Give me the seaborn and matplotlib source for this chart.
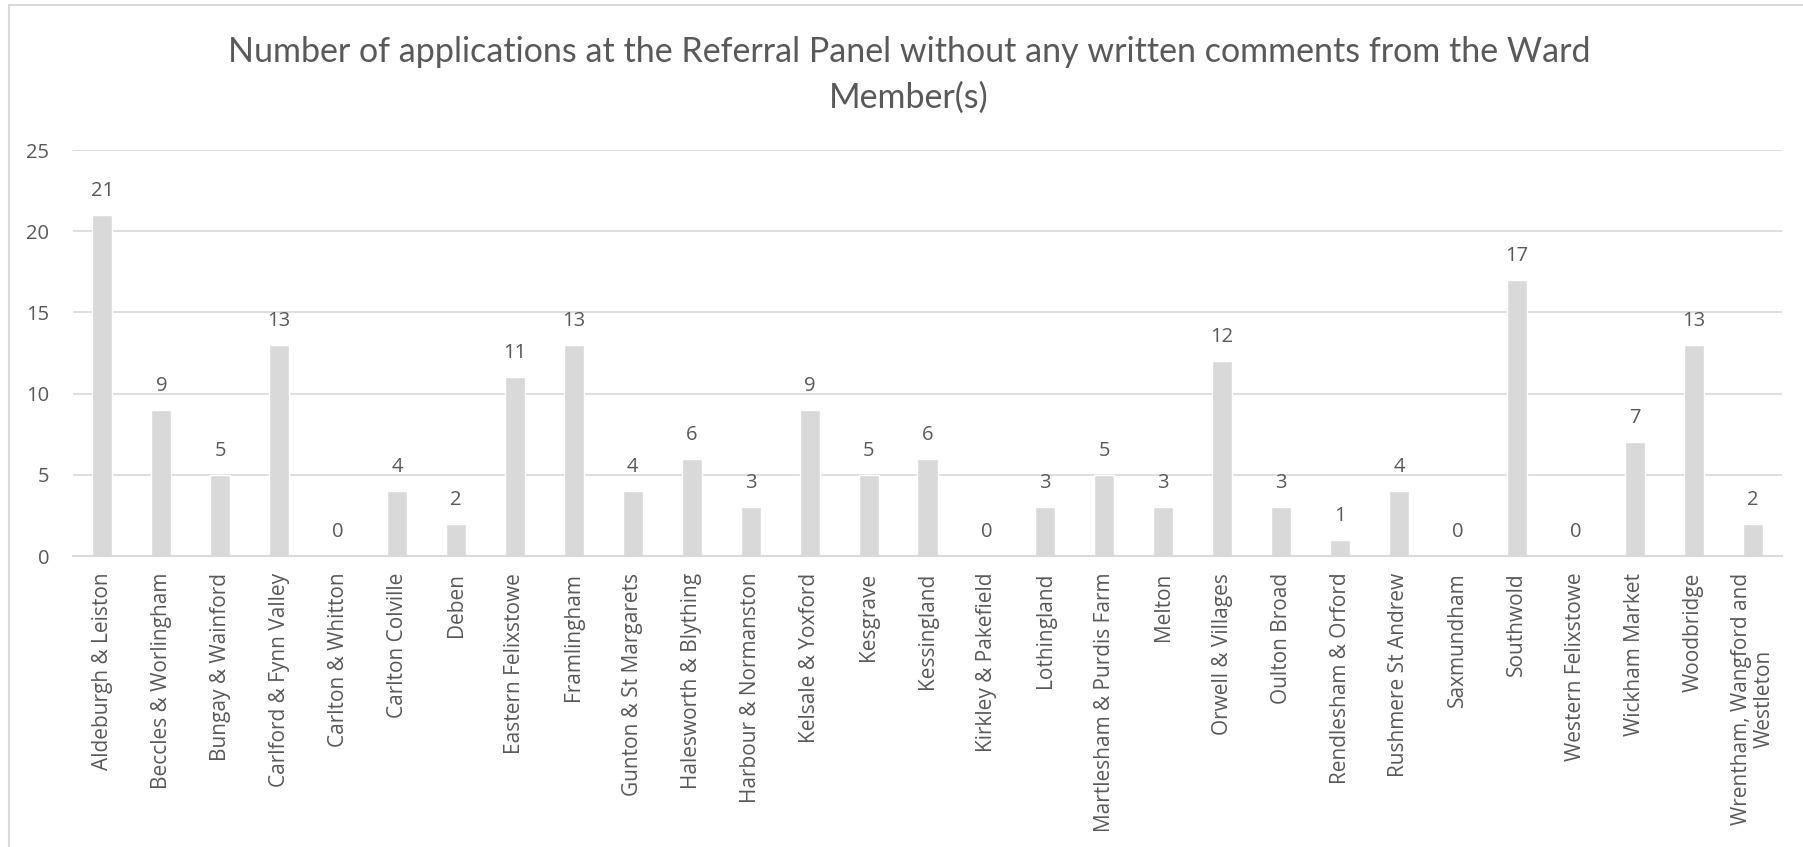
import matplotlib.pyplot as plt
import matplotlib.patches as mpatches
import seaborn as sns
import pandas as pd

# Ward names and counts
wards = [
    "Aldeburgh & Leiston", "Beccles & Worlingham", "Bungay & Wainford",
    "Carlford & Fynn Valley", "Carlton & Whitton", "Carlton Colville", "Deben",
    "Eastern Felixstowe", "Framlingham", "Gunton & St Margarets",
    "Halesworth & Blything", "Harbour & Normanston", "Kelsale & Yoxford",
    "Kesgrave", "Kessingland", "Kirkley & Pakefield", "Lothingland",
    "Martlesham & Purdis Farm", "Melton", "Orwell & Villages", "Oulton Broad",
    "Rendlesham & Orford", "Rushmere St Andrew", "Saxmundham", "Southwold",
    "Western Felixstowe", "Wickham Market", "Woodbridge",
    "Wrentham, Wangford and\nWestleton",
]
counts = [21, 9, 5, 13, 0, 4, 2, 11, 13, 4, 6, 3, 9, 5, 6, 0, 3, 5, 3, 12,
          3, 1, 4, 0, 17, 0, 7, 13, 2]
yticks = [0, 5, 10, 15, 20, 25]

title = ("Number of applications at the Referral Panel without any written "
         "comments from the Ward\nMember(s)")

df = pd.DataFrame({"ward": wards, "count": counts})

sns.set_theme(style="white")
plt.rcParams['font.family'] = ['Open Sans', 'DejaVu Sans']

text_col = "#595959"
grid_col = "#D9D9D9"

fig = plt.figure(figsize=(18.03, 8.47), dpi=100)
ax = fig.add_axes([73 / 1803, 291 / 847, 1709 / 1803, 406 / 847])

sns.barplot(data=df, x="ward", y="count", color=grid_col, width=0.34,
            saturation=1, ax=ax, zorder=2)

ax.set_ylim(0, 25)
ax.set_xlim(-0.5, len(wards) - 0.5)
ax.set_yticks(yticks)
ax.yaxis.grid(True, color=grid_col, linewidth=1.2, zorder=0)
ax.set_axisbelow(True)
for side in ["top", "right", "left"]:
    ax.spines[side].set_visible(False)
ax.spines["bottom"].set_color(grid_col)
ax.spines["bottom"].set_linewidth(1.5)

ax.tick_params(axis="y", length=0, pad=17, labelsize=14.5, labelcolor=text_col)
ax.tick_params(axis="x", length=0, pad=12, labelsize=15, labelcolor=text_col)
plt.setp(ax.get_xticklabels(), rotation=90, ha="center", va="top",
         multialignment="center", linespacing=1.1)
ax.set_xlabel("")
ax.set_ylabel("")

ax.bar_label(ax.containers[0], labels=[str(c) for c in counts], padding=10,
             fontsize=14.5, color=text_col)

fig.text(909 / 1803, 1 - 75 / 847, title, ha="center", va="center",
         fontsize=24.5, color=text_col, linespacing=1.5, family=["Lato"])

# light chart-area border
fig.patches.append(mpatches.Rectangle((9 / 1803, -0.1), 1.2, 1.1 - 5 / 847,
                                      transform=fig.transFigure, fill=False,
                                      edgecolor=grid_col, linewidth=1.5))

fig.savefig("out.png", dpi=100)
